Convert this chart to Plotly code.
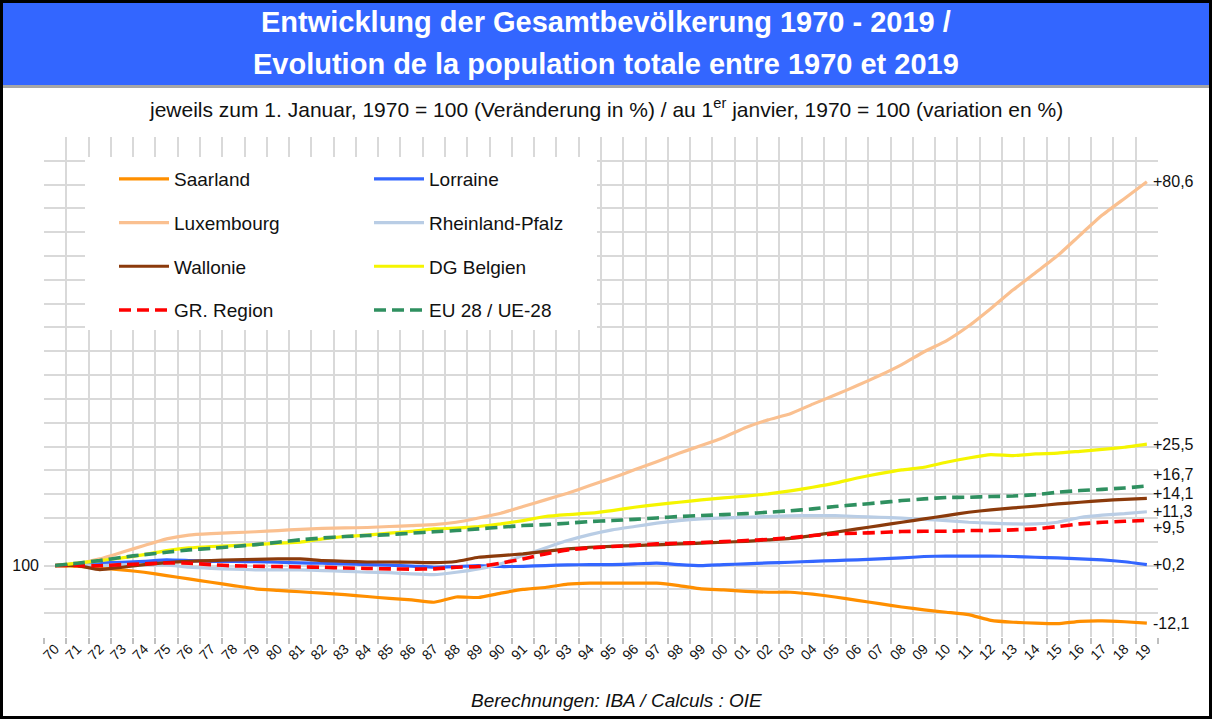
import plotly.graph_objects as go

# ---------------- data ----------------
year_labels = ["70", "71", "72", "73", "74", "75", "76", "77", "78", "79",
               "80", "81", "82", "83", "84", "85", "86", "87", "88", "89",
               "90", "91", "92", "93", "94", "95", "96", "97", "98", "99",
               "00", "01", "02", "03", "04", "05", "06", "07", "08", "09",
               "10", "11", "12", "13", "14", "15", "16", "17", "18", "19"]

saarland = [100.0, 99.9, 99.5, 99.1, 98.6, 97.9, 97.2, 96.5, 95.8, 95.1,
            94.8, 94.5, 94.2, 93.9, 93.5, 93.1, 92.8, 92.3, 93.4, 93.3,
            94.2, 95.0, 95.4, 96.1, 96.3, 96.3, 96.3, 96.3, 95.8, 95.1,
            94.9, 94.6, 94.4, 94.4, 94.0, 93.4, 92.7, 92.0, 91.3, 90.7,
            90.2, 89.7, 88.5, 88.1, 87.9, 87.8, 88.3, 88.4, 88.2, 87.9]

lorraine = [100.0, 100.35, 100.5, 100.7, 100.9, 101.2, 101.05, 100.9, 100.85, 100.8,
            100.7, 100.55, 100.5, 100.35, 100.2, 100.1, 99.9, 99.65, 99.8, 100.0,
            99.8, 99.85, 100.0, 100.15, 100.2, 100.2, 100.35, 100.5, 100.2, 100.0,
            100.2, 100.35, 100.55, 100.7, 100.9, 101.05, 101.2, 101.4, 101.6, 101.9,
            102.0, 102.0, 102.0, 101.9, 101.75, 101.6, 101.4, 101.2, 100.8, 100.2]

luxembourg = [100.0, 100.4, 101.4, 102.8, 104.2, 105.6, 106.4, 106.7, 106.9, 107.1,
              107.35, 107.6, 107.8, 107.9, 108.0, 108.2, 108.4, 108.6, 109.1, 110.0,
              111.0, 112.4, 113.8, 115.2, 116.8, 118.4, 120.1, 121.8, 123.6, 125.2,
              126.9, 129.0, 130.6, 131.9, 133.9, 135.8, 137.8, 139.9, 142.2, 144.9,
              147.2, 150.3, 154.0, 157.9, 161.5, 165.1, 169.4, 173.6, 177.1, 180.6]

rheinland_pfalz = [100.0, 100.15, 100.0, 100.15, 100.2, 100.15, 99.65, 99.4, 99.25, 99.1,
                   99.1, 99.1, 98.95, 98.8, 98.6, 98.5, 98.25, 98.1, 98.6, 99.3,
                   100.35, 102.1, 103.7, 105.25, 106.5, 107.5, 108.2, 108.9, 109.45, 109.8,
                   110.0, 110.15, 110.3, 110.45, 110.5, 110.5, 110.3, 110.15, 109.95, 109.7,
                   109.45, 109.1, 108.9, 108.75, 108.75, 109.1, 110.1, 110.6, 110.9, 111.3]

wallonie = [100.0, 100.0, 99.15, 99.65, 100.2, 100.6, 100.9, 101.05, 101.2, 101.3,
            101.4, 101.4, 101.05, 100.9, 100.75, 100.75, 100.7, 100.6, 100.85, 101.75,
            102.1, 102.45, 103.0, 103.5, 103.85, 104.05, 104.2, 104.35, 104.55, 104.7,
            104.9, 105.1, 105.4, 105.7, 106.3, 107.0, 107.7, 108.4, 109.1, 109.8,
            110.5, 111.2, 111.7, 112.1, 112.5, 112.95, 113.3, 113.65, 113.9, 114.1]

dg_belgien = [100.0, 100.5, 101.05, 101.6, 102.3, 103.15, 103.7, 104.0, 104.2, 104.4,
              104.7, 104.9, 105.6, 106.1, 106.4, 106.8, 107.2, 107.7, 107.85, 108.2,
              108.75, 109.45, 110.3, 110.7, 111.0, 111.55, 112.25, 112.8, 113.3, 113.8,
              114.2, 114.6, 115.05, 115.7, 116.45, 117.3, 118.4, 119.3, 120.1, 120.65,
              121.7, 122.6, 123.3, 123.1, 123.45, 123.6, 124.0, 124.4, 124.85, 125.5]

gr_region = [100.0, 100.0, 99.95, 100.2, 100.35, 100.55, 100.5, 100.2, 99.95, 99.85,
             99.8, 99.7, 99.65, 99.5, 99.4, 99.3, 99.25, 99.3, 99.65, 99.8,
             100.5, 101.4, 102.45, 103.3, 103.7, 104.0, 104.25, 104.55, 104.7, 104.85,
             105.05, 105.25, 105.5, 105.85, 106.3, 106.65, 106.8, 106.95, 107.15, 107.2,
             107.2, 107.35, 107.35, 107.5, 107.7, 108.2, 108.75, 109.1, 109.3, 109.5]

eu28 = [100.0, 100.5, 101.05, 101.75, 102.3, 102.8, 103.3, 103.6, 104.0, 104.4,
        104.9, 105.4, 105.8, 106.1, 106.3, 106.5, 106.8, 107.1, 107.35, 107.7,
        108.05, 108.4, 108.6, 108.9, 109.25, 109.45, 109.7, 110.0, 110.3, 110.5,
        110.7, 110.9, 111.2, 111.5, 111.9, 112.4, 112.8, 113.2, 113.65, 114.0,
        114.3, 114.35, 114.5, 114.6, 114.9, 115.4, 115.75, 116.0, 116.3, 116.7]

series_names = ["Saarland", "Lorraine", "Luxembourg", "Rheinland-Pfalz",
                "Wallonie", "DG Belgien", "GR. Region", "EU 28 / UE-28"]
series_values = [saarland, lorraine, luxembourg, rheinland_pfalz,
                 wallonie, dg_belgien, gr_region, eu28]
end_labels = ["-12,1", "+0,2", "+80,6", "+11,3", "+14,1", "+25,5", "+9,5", "+16,7"]

# ---------------- styles ----------------
colors = ["#FF8F00", "#3366FF", "#FAC090", "#B9CDE5",
          "#8B3A0B", "#F5F500", "#FF0000", "#2F9060"]
dashes = ["solid"] * 6 + ["12px,6px", "12px,6px"]
widths = [3.2] * 6 + [3.6, 3.6]
legend_of = ["legend", "legend2", "legend", "legend2",
             "legend", "legend2", "legend", "legend2"]
label_yshift = [0, 0, 0, 0, 5, 0, -7, 12]

W, H = 1212, 719
L, R, T, B = 44, 1158, 137, 637


def px(X):
    return (X - L) / (R - L)


def py(Y):
    return (B - Y) / (B - T)


FONT = "Liberation Sans, Arial, sans-serif"

fig = go.Figure()
xs = list(range(len(year_labels)))
for name, vals, c, d, w, lg in zip(series_names, series_values, colors, dashes, widths, legend_of):
    fig.add_trace(go.Scatter(
        x=xs, y=vals, name=name, mode="lines",
        line=dict(color=c, width=w, dash=d, shape="spline", smoothing=0.4),
        legend=lg, legendgroup=name, hoverinfo="skip"))

# end-of-line labels
for name, vals, txt, ys in zip(series_names, series_values, end_labels, label_yshift):
    fig.add_annotation(x=xs[-1], y=vals[-1], xref="x", yref="y", text=txt,
                       showarrow=False, xanchor="left", yanchor="middle",
                       xshift=4, yshift=ys,
                       font=dict(family=FONT, size=16, color="#111111"))

shapes = [
    # title band
    dict(type="rect", xref="paper", yref="paper", x0=px(0), x1=px(W), y0=py(85), y1=py(0),
         fillcolor="#3366FF", line=dict(width=0), layer="above"),
    dict(type="rect", xref="paper", yref="paper", x0=px(0), x1=px(W), y0=py(88), y1=py(85),
         fillcolor="#A6A6A6", line=dict(width=0), layer="above"),
    # legend background
    dict(type="rect", xref="paper", yref="paper", x0=px(85), x1=px(597), y0=py(330), y1=py(157),
         fillcolor="white", line=dict(width=0), layer="above"),
    # outer frame
    dict(type="rect", xref="paper", yref="paper", x0=px(1.5), x1=px(W - 1.5), y0=py(H - 1.5), y1=py(1.5),
         fillcolor="rgba(0,0,0,0)", line=dict(color="black", width=3), layer="above"),
]

title_lines = ["<b>Entwicklung der Gesamtbevölkerung 1970 - 2019 /</b>",
               "<b>Evolution de la population totale entre 1970 et 2019</b>"]
for txt, Y in zip(title_lines, [22, 64]):
    fig.add_annotation(xref="paper", yref="paper", x=px(606), y=py(Y), text=txt,
                       showarrow=False, xanchor="center", yanchor="middle",
                       font=dict(family=FONT, size=29, color="white"))

fig.add_annotation(xref="paper", yref="paper", x=px(606), y=py(108),
                   text="jeweils zum 1. Januar, 1970 = 100 (Veränderung in %) / au 1<sup>er</sup> janvier, 1970 = 100 (variation en %)",
                   showarrow=False, xanchor="center", yanchor="middle",
                   font=dict(family=FONT, size=21, color="#111111"))
fig.add_annotation(xref="paper", yref="paper", x=px(616), y=py(700),
                   text="<i>Berechnungen: IBA / Calculs : OIE</i>",
                   showarrow=False, xanchor="center", yanchor="middle",
                   font=dict(family=FONT, size=19, color="#111111"))

grid_c = "#D9D9D9"
legend_style = dict(xanchor="left", yanchor="top", bgcolor="rgba(0,0,0,0)", borderwidth=0,
                    traceorder="grouped", tracegroupgap=16, itemwidth=50,
                    font=dict(family=FONT, size=19, color="#111111"))
fig.update_layout(
    width=W, height=H,
    margin=dict(l=L, r=W - R, t=T, b=H - B, pad=0),
    paper_bgcolor="white", plot_bgcolor="white",
    font=dict(family=FONT, color="#111111"),
    shapes=shapes,
    showlegend=True,
    legend=dict(x=px(114), y=py(160), **legend_style),
    legend2=dict(x=px(369), y=py(160), **legend_style),
    xaxis=dict(range=[-0.5, len(year_labels) - 0.5], tickmode="array", tickvals=xs,
               ticktext=year_labels, tickangle=-45, showgrid=False, zeroline=False,
               ticks="", showline=False, automargin=False,
               tickfont=dict(family=FONT, size=14, color="#111111"),
               minor=dict(tick0=-0.5, dtick=1, showgrid=True, gridcolor=grid_c, gridwidth=1.5,
                          ticks="outside", ticklen=6, tickcolor="#BFBFBF", tickwidth=1.5)),
    yaxis=dict(range=[85, 190], tickmode="array", tickvals=[100], ticktext=["100"],
               showgrid=True, gridcolor=grid_c, gridwidth=1.5, zeroline=False,
               ticks="", showline=False, automargin=False, ticklabelstandoff=4,
               tickfont=dict(family=FONT, size=16, color="#111111"),
               minor=dict(tick0=85, dtick=5, showgrid=True, gridcolor=grid_c, gridwidth=1.5)),
)

fig.write_html("out.html", config={"displayModeBar": False},
               post_script="document.body.style.margin='0';")
